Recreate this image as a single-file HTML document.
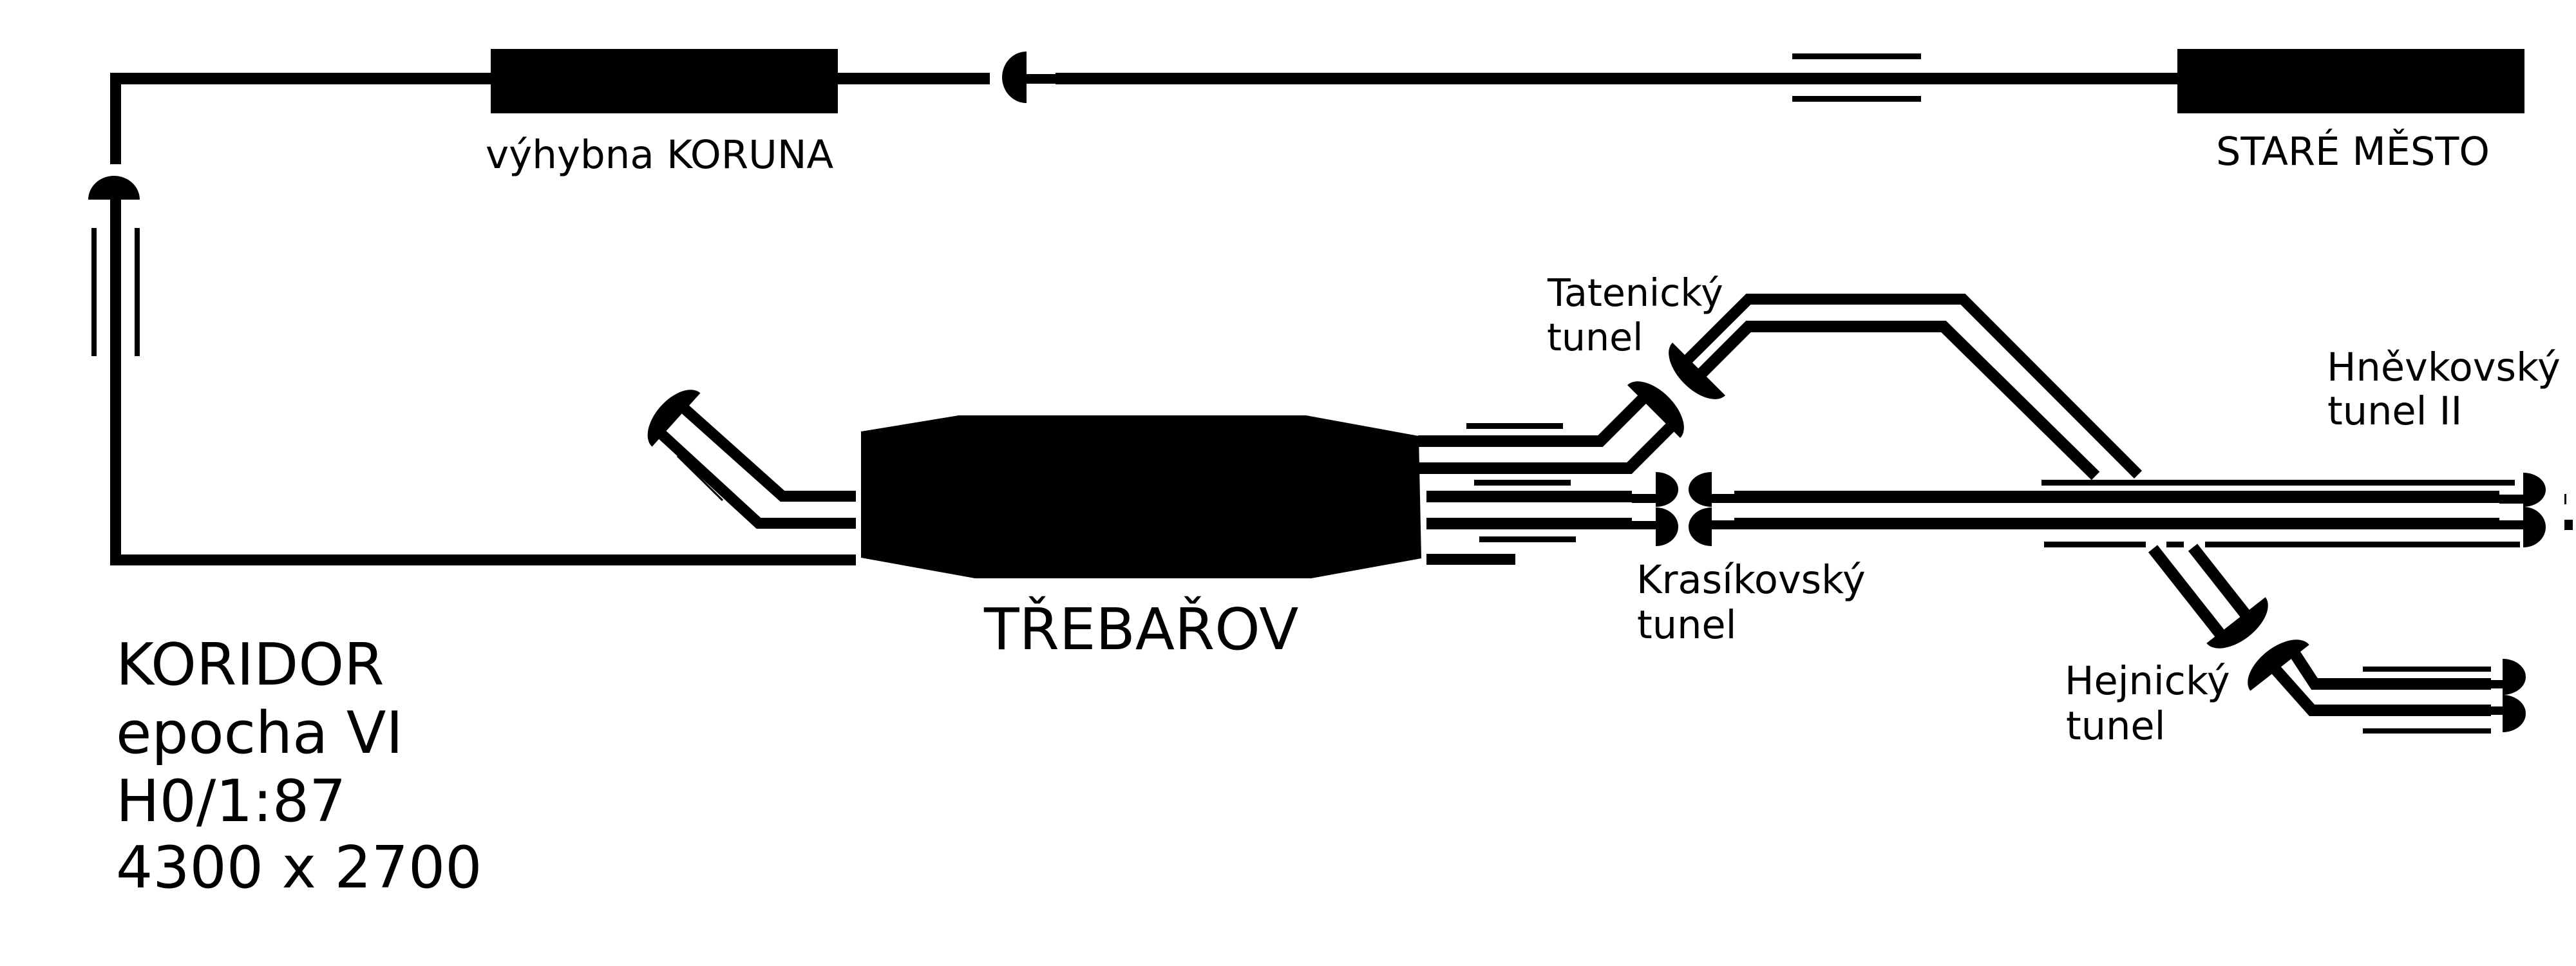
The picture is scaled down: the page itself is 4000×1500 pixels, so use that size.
<!DOCTYPE html>
<html>
<head>
<meta charset="utf-8">
<style>
html,body{margin:0;padding:0;background:#fff;}
svg{display:block;}
text{font-family:"DejaVu Sans","Liberation Sans",sans-serif;fill:#000;}
</style>
</head>
<body>
<svg width="4000" height="1500" viewBox="0 0 4000 1500" xmlns="http://www.w3.org/2000/svg">
<rect width="4000" height="1500" fill="#fff"/>
<g fill="#000">
  <!-- top line -->
  <rect x="171" y="113" width="591" height="18"/>
  <rect x="762" y="76" width="539" height="100"/>
  <rect x="1301" y="113" width="236" height="18"/>
  <g transform="translate(1594,120) rotate(-90)"><path d="M -40 0 A 40 38 0 0 1 40 0 Z"/></g>
  <rect x="1594" y="115" width="45" height="15"/>
  <rect x="1639" y="113" width="1742" height="18"/>
  <rect x="3381" y="76" width="539" height="100"/>
  <rect x="2783" y="83" width="200" height="9"/>
  <rect x="2783" y="149" width="200" height="9"/>

  <!-- left vertical -->
  <rect x="171" y="113" width="17" height="142"/>
  <g transform="translate(177,310)"><path d="M -40 0 A 40 37 0 0 1 40 0 Z"/></g>
  <rect x="171" y="304" width="17" height="574"/>
  <rect x="142" y="354" width="8" height="199"/>
  <rect x="209" y="354" width="8" height="199"/>
  <rect x="171" y="861" width="1158" height="17"/>

  <!-- station -->
  <polygon points="1337,670 1489,645 2028,645 2203,677 2207,867 2036,898 1514,898 1337,866"/>

  <!-- right of station -->
  <rect x="2277" y="657" width="150" height="9"/>
  <rect x="2289" y="745" width="150" height="9"/>
  <rect x="2215" y="762" width="319" height="18"/>
  <rect x="2534" y="767" width="45" height="14"/>
  <rect x="2215" y="804" width="319" height="18"/>
  <rect x="2534" y="809" width="45" height="13"/>
  <rect x="2297" y="833" width="150" height="9"/>
  <rect x="2215" y="860" width="138" height="17"/>

  <!-- Krasikovsky portals -->
  <g transform="translate(2571,760) rotate(90)"><path d="M -27 0 A 27 35 0 0 1 27 0 Z"/></g>
  <g transform="translate(2571,818) rotate(90)"><path d="M -30 0 A 30 35 0 0 1 30 0 Z"/></g>
  <g transform="translate(2658,760) rotate(-90)"><path d="M -27 0 A 27 36 0 0 1 27 0 Z"/></g>
  <g transform="translate(2658,818) rotate(-90)"><path d="M -30 0 A 30 36 0 0 1 30 0 Z"/></g>

  <!-- main right tracks -->
  <rect x="2650" y="767" width="45" height="14"/>
  <rect x="2650" y="808" width="45" height="14"/>
  <rect x="2693" y="762" width="1188" height="19"/>
  <rect x="2693" y="804" width="1188" height="18"/>
  <rect x="3881" y="768" width="43" height="14"/>
  <rect x="3881" y="808" width="43" height="14"/>
  <rect x="3170" y="745" width="735" height="9"/>
  <rect x="3174" y="841" width="158" height="9"/>
  <rect x="3364" y="841" width="27" height="9"/>
  <rect x="3424" y="841" width="489" height="9"/>
  <g transform="translate(3918,760.5) rotate(90)"><path d="M -26.5 0 A 26.5 35 0 0 1 26.5 0 Z"/></g>
  <g transform="translate(3918,818.5) rotate(90)"><path d="M -31.5 0 A 31.5 35 0 0 1 31.5 0 Z"/></g>
  <rect x="3982" y="767" width="3" height="16"/>
  <rect x="3982" y="807" width="13" height="16"/>

  <!-- Hejnicky -->
  <rect x="3669" y="1035" width="199" height="8"/>
  <rect x="3669" y="1131" width="199" height="8"/>
  <rect x="3868" y="1056" width="25" height="13"/>
  <rect x="3868" y="1097" width="25" height="13"/>
  <g transform="translate(3886,1051) rotate(90)"><path d="M -28 0 A 28 36 0 0 1 28 0 Z"/></g>
  <g transform="translate(3886,1108) rotate(90)"><path d="M -29 0 A 29 36 0 0 1 29 0 Z"/></g>
</g>

<g fill="none" stroke="#000" stroke-linecap="butt" stroke-linejoin="miter">
  <!-- left diagonal into station -->
  <polyline points="1060,632 1215,770.5 1329,770.5" stroke-width="17"/>
  <polyline points="1025,672 1178,812.5 1329,812.5" stroke-width="17"/>
  <line x1="1052" y1="708" x2="1122" y2="777" stroke-width="3"/>

  <!-- station right tracks to Tatenicky -->
  <polyline points="2202,685 2485,685 2555,615" stroke-width="18"/>
  <polyline points="2202,727 2530,727 2598,659" stroke-width="18"/>

  <!-- Tatenicky upper tracks -->
  <polyline points="2618,561 2715,464.5 3048,464.5 3320,737" stroke-width="17"/>
  <polyline points="2640,582 2715,507 3018,507 3254,739" stroke-width="18"/>

  <!-- Hejnicky diagonals -->
  <line x1="3343" y1="852" x2="3451" y2="989" stroke-width="18"/>
  <line x1="3405" y1="850" x2="3490" y2="958" stroke-width="18"/>
  <polyline points="3560,1010 3594,1062 3868,1062" stroke-width="18"/>
  <polyline points="3525,1030 3590,1103 3868,1103" stroke-width="18"/>
</g>

<g fill="#000">
  <!-- rotated portals -->
  <g transform="translate(1050,652) rotate(-48)"><path d="M -56 0 A 56 32 0 0 1 56 0 Z"/></g>
  <g transform="translate(2568,639) rotate(45)"><path d="M -58 0 A 58 32 0 0 1 58 0 Z"/></g>
  <g transform="translate(2638,573) rotate(225)"><path d="M -58 0 A 58 32 0 0 1 58 0 Z"/></g>
  <g transform="translate(3472,963) rotate(142)"><path d="M -58 0 A 58 32 0 0 1 58 0 Z"/></g>
  <g transform="translate(3540,1037) rotate(-38)"><path d="M -58 0 A 58 32 0 0 1 58 0 Z"/></g>
</g>

<!-- labels -->
<text x="754" y="261" font-size="61">výhybna KORUNA</text>
<text x="3441" y="256" font-size="60.5">STARÉ MĚSTO</text>
<text x="1528" y="1008" font-size="89.5">TŘEBAŘOV</text>
<text x="2403" y="475" font-size="58.5">Tatenický</text>
<text x="2402" y="544" font-size="58.5">tunel</text>
<text x="2541" y="921" font-size="60.5">Krasíkovský</text>
<text x="2542" y="991" font-size="60.5">tunel</text>
<text x="3613" y="591" font-size="60.5">Hněvkovský</text>
<text x="3614" y="659" font-size="60.5">tunel II</text>
<text x="3206" y="1078" font-size="60.5">Hejnický</text>
<text x="3208" y="1148" font-size="60.5">tunel</text>
<text x="180" y="1063" font-size="90">KORIDOR</text>
<text x="180" y="1169" font-size="90">epocha VI</text>
<text x="180" y="1275" font-size="90">H0/1:87</text>
<text x="180" y="1378" font-size="90">4300 x 2700</text>
</svg>
</body>
</html>
